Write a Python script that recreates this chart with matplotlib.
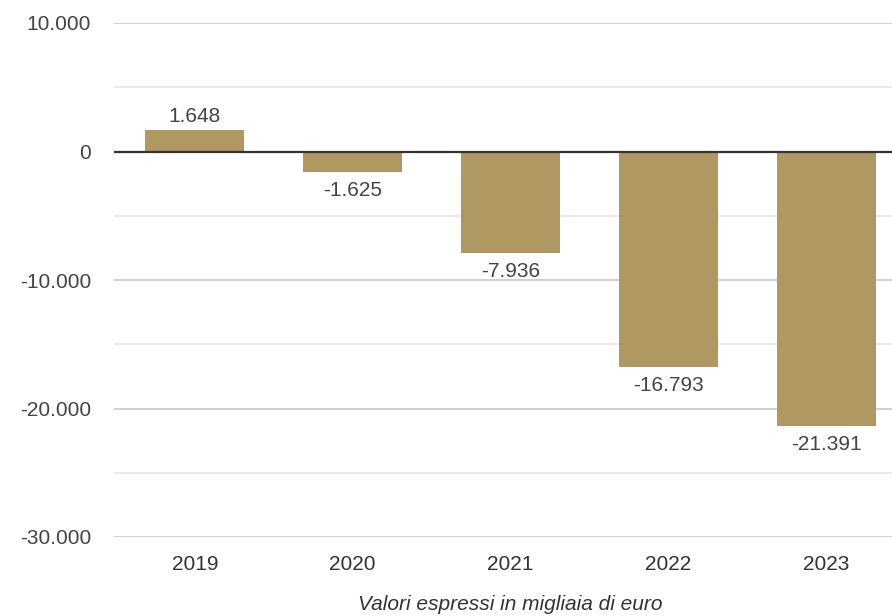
import matplotlib
matplotlib.use("Agg")
import matplotlib.pyplot as plt

years = ["2019", "2020", "2021", "2022", "2023"]
values = [1648, -1625, -7936, -16793, -21391]
labels = ["1.648", "-1.625", "-7.936", "-16.793", "-21.391"]
yticks = [10000, 0, -10000, -20000, -30000]
ytick_labels = ["10.000", "0", "-10.000", "-20.000", "-30.000"]

plt.rcParams['font.family'] = ['Liberation Sans', 'DejaVu Sans']

W, H = 892, 616
fig = plt.figure(figsize=(W / 100, H / 100), dpi=100)
left, right, top, bottom = 114, 892, 23, 537
ax = fig.add_axes([left / W, 1 - bottom / H, (right - left) / W, (bottom - top) / H])

x = list(range(len(years)))
bar_color = "#B09863"
ax.bar(x, values, width=0.628, color=bar_color, zorder=3)

ax.set_ylim(-30000, 10000)
ax.set_xlim(-0.513, 4.418)

for y in [5000, -5000, -15000, -25000]:
    ax.axhline(y, color="#e6e6e6", lw=1.2, zorder=1)
for y in [10000, -10000, -20000, -30000]:
    ax.axhline(y, color="#c8c8c8", lw=1.2, zorder=1)
ax.axhline(0, color="#333333", lw=1.6, zorder=4)

ax.set_yticks(yticks)
ax.set_yticklabels(ytick_labels)
ax.set_xticks(x)
ax.set_xticklabels(years)
ax.tick_params(axis="y", length=0, pad=16.5, labelsize=15, labelcolor="#444444")
ax.tick_params(axis="x", length=0, pad=13, labelsize=15, labelcolor="#333333")
for s in ax.spines.values():
    s.set_visible(False)

for xi, v, lab in zip(x, values, labels):
    if v >= 0:
        ax.annotate(lab, (xi, v), xytext=(0, 3), textcoords="offset points",
                    ha="center", va="bottom", fontsize=15, color="#444444", zorder=5)
    else:
        ax.annotate(lab, (xi, v), xytext=(0, -6), textcoords="offset points",
                    ha="center", va="top", fontsize=15, color="#444444", zorder=5)

fig.text(510 / W, 1 - 604 / H, "Valori espressi in migliaia di euro", ha="center",
         va="center", fontsize=15, style="italic", color="#333333")

fig.savefig("out.png", dpi=100)
